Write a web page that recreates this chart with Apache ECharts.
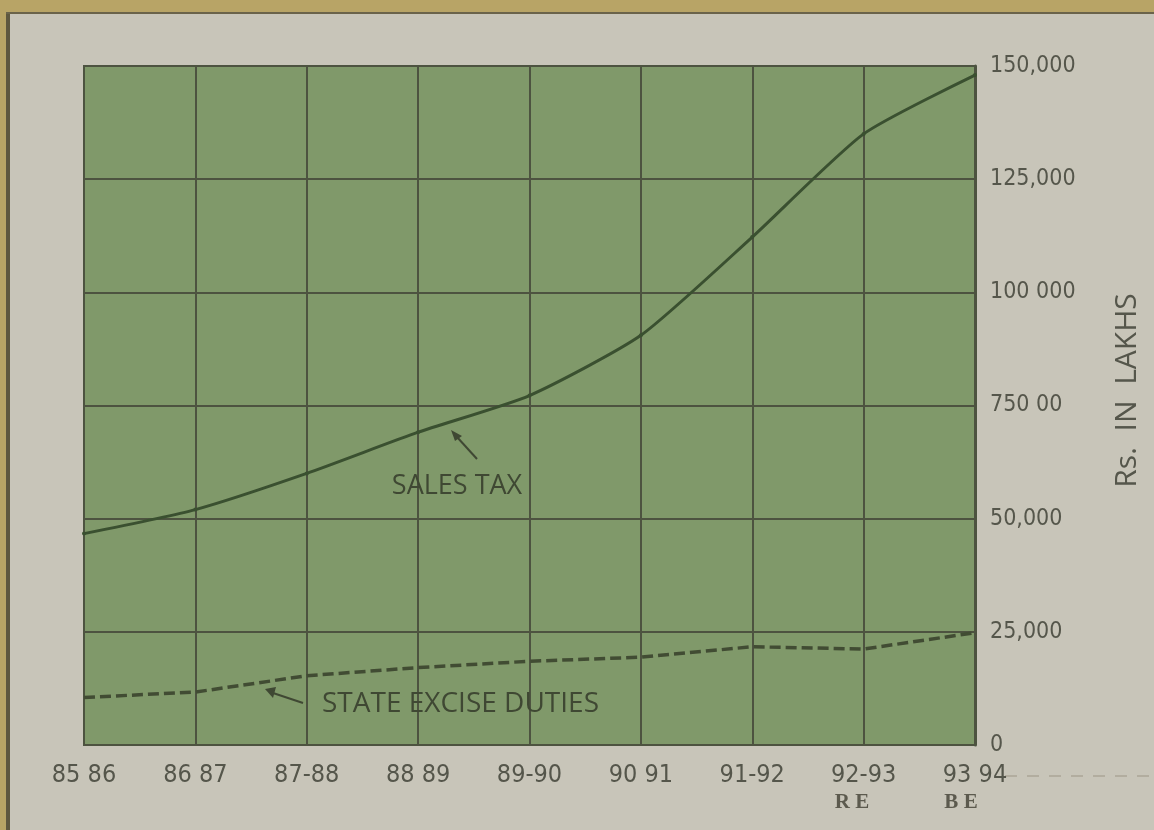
<!DOCTYPE html>
<html>
<head>
<meta charset="utf-8">
<script src="https://cdn.jsdelivr.net/npm/echarts@6/dist/echarts.min.js"></script>
<style>
html,body{margin:0;padding:0;background:#b8a466;}
#chart{width:1154px;height:830px;}
</style>
</head>
<body>
<div id="chart"></div>
<script>
// ---- data ----
const categories = ["85 86", "86 87", "87-88", "88 89", "89-90", "90 91", "91-92", "92-93", "93 94"];
const salesTax = [46700, 52000, 60000, 69100, 77200, 90500, 112200, 135000, 148000];
const exciseDuties = [10500, 11700, 15300, 17100, 18500, 19400, 21700, 21200, 24800];
const yTickLabels = ["0", "25,000", "50,000", "750 00", "100 000", "125,000", "150,000"];
const yAxisName = "Rs.  IN  LAKHS";
const seriesNames = ["SALES TAX", "STATE EXCISE DUTIES"];
const estimateNotes = ["R E", "B E"];

const narrow = "'Liberation Sans Narrow', 'DejaVu Sans Condensed', 'Open Sans', sans-serif";
const gridColor = '#4d5340';
const inkPlot = '#3f4833';
const inkPaper = '#55564b';

const chart = echarts.init(document.getElementById('chart'), null, {renderer: 'canvas'});
chart.setOption({
  animation: false,
  backgroundColor: '#b8a466',
  grid: {
    left: 84, right: 179, top: 66, bottom: 85,
    show: true, backgroundColor: '#80996a', borderColor: gridColor, borderWidth: 2
  },
  xAxis: {
    type: 'category',
    data: categories,
    boundaryGap: false,
    axisLine: {show: true, lineStyle: {color: gridColor, width: 2}},
    axisTick: {show: false},
    axisLabel: {margin: 18, fontSize: 25, color: inkPaper, fontFamily: narrow},
    splitLine: {show: true, lineStyle: {color: gridColor, width: 2}}
  },
  yAxis: {
    type: 'value',
    position: 'right',
    min: 0, max: 150000, interval: 25000,
    axisLine: {show: true, lineStyle: {color: gridColor, width: 3}},
    axisTick: {show: false},
    axisLabel: {
      margin: 15, fontSize: 23, color: inkPaper, fontFamily: narrow, align: 'left',
      formatter: function (v) { return yTickLabels[Math.round(v / 25000)]; }
    },
    splitLine: {show: true, lineStyle: {color: gridColor, width: 2}},
    name: yAxisName,
    nameLocation: 'middle',
    nameRotate: 90,
    nameGap: 137,
    nameTextStyle: {fontSize: 30, color: inkPaper, fontFamily: "'Open Sans', sans-serif", padding: [0, 0, 0, 30]}
  },
  series: [
    {
      name: seriesNames[0],
      type: 'line',
      data: salesTax,
      smooth: 0.2,
      symbol: 'circle', symbolSize: 4,
      itemStyle: {color: '#3a5030'},
      lineStyle: {color: '#3a5030', width: 3}
    },
    {
      name: seriesNames[1],
      type: 'line',
      data: exciseDuties,
      symbol: 'none',
      lineStyle: {color: '#414c33', width: 3.5, type: [11, 5]}
    }
  ],
  graphic: [
    {type: 'rect', z: -100, silent: true, shape: {x: 10, y: 14, width: 1144, height: 816}, style: {fill: '#c8c5b9'}},
    {type: 'line', z: -99, silent: true, shape: {x1: 8, y1: 13, x2: 8, y2: 830}, style: {stroke: '#5e573f', lineWidth: 4}},
    {type: 'line', z: -99, silent: true, shape: {x1: 6, y1: 13, x2: 1154, y2: 13}, style: {stroke: '#6a634a', lineWidth: 2}},
    {type: 'line', z: -99, silent: true, shape: {x1: 1005, y1: 776, x2: 1154, y2: 776}, style: {stroke: '#b2ad9f', lineWidth: 2, lineDash: [12, 10]}},
    // annotations
    {type: 'text', z: 50, style: {text: seriesNames[0], x: 457, y: 486, align: 'center', verticalAlign: 'middle', fontSize: 27, fill: inkPlot, fontFamily: "'Open Sans', sans-serif"}},
    {type: 'line', z: 50, shape: {x1: 477, y1: 459, x2: 457, y2: 437}, style: {stroke: inkPlot, lineWidth: 2}},
    {type: 'polygon', z: 50, shape: {points: [[451, 430], [462, 436], [455, 441]]}, style: {fill: inkPlot}},
    {type: 'text', z: 50, style: {text: seriesNames[1], x: 322, y: 704, align: 'left', verticalAlign: 'middle', fontSize: 28, fill: inkPlot, fontFamily: "'Open Sans', sans-serif"}},
    {type: 'line', z: 50, shape: {x1: 303, y1: 703, x2: 273, y2: 693}, style: {stroke: inkPlot, lineWidth: 2}},
    {type: 'polygon', z: 50, shape: {points: [[265, 689], [276, 687], [273, 698]]}, style: {fill: inkPlot}},
    {type: 'text', z: 50, style: {text: estimateNotes[0], x: 852, y: 803, align: 'center', verticalAlign: 'middle', fontSize: 21, fontWeight: 'bold', fill: '#5c5a4e', fontFamily: "'Liberation Serif', 'DejaVu Serif', serif"}},
    {type: 'text', z: 50, style: {text: estimateNotes[1], x: 961, y: 803, align: 'center', verticalAlign: 'middle', fontSize: 21, fontWeight: 'bold', fill: '#5c5a4e', fontFamily: "'Liberation Serif', 'DejaVu Serif', serif"}}
  ]
});
</script>
</body>
</html>
